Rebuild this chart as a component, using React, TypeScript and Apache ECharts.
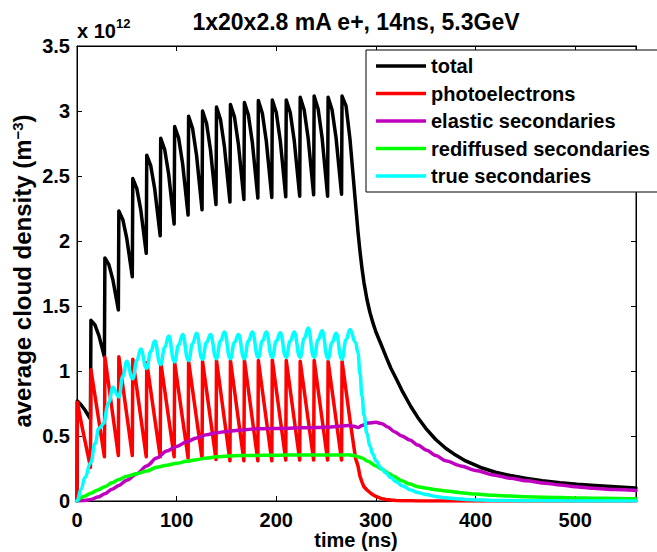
import { useEffect, useRef } from "react";
import * as echarts from "echarts";

const FONT = '"Liberation Sans", Arial, Helvetica, sans-serif';

const titleText = "1x20x2.8 mA e+, 14ns, 5.3GeV";
const seriesNames = [
  "total",
  "photoelectrons",
  "elastic secondaries",
  "rediffused secondaries",
  "true secondaries",
];
const seriesColors = ["#000000", "#ff0000", "#bf00bf", "#00ff00", "#00ffff"];

// time grid during the bunch train (ns)
const trainT = [
  0,
  0.3, 4, 8, 13.5,
  14, 18, 22, 27.5,
  28, 32, 36, 41.5,
  42, 46, 50, 55.5,
  56, 60, 64, 69.5,
  70, 74, 78, 83.5,
  84, 88, 92, 97.5,
  98, 102, 106, 111.5,
  112, 116, 120, 125.5,
  126, 130, 134, 139.5,
  140, 144, 148, 153.5,
  154, 158, 162, 167.5,
  168, 172, 176, 181.5,
  182, 186, 190, 195.5,
  196, 200, 204, 209.5,
  210, 214, 218, 223.5,
  224, 228, 232, 237.5,
  238, 242, 246, 251.5,
  252, 256, 260, 265.5,
  266, 270, 274, 279.5,
];
// time grid after the train (ns)
const tailT = [
  282, 284, 286, 288, 291, 294, 297, 300, 305, 310, 315, 320, 327, 335, 342, 350, 360, 370,
  380, 390, 405, 420, 435, 450, 467, 485, 502, 520, 540, 561,
];

// values in units of 1e12 m^-3
const totalV = [
  0,
  0.77, 0.74, 0.70, 0.63,
  1.39, 1.354, 1.272, 1.11,
  1.87, 1.818, 1.702, 1.47,
  2.23, 2.164, 2.018, 1.725,
  2.48, 2.405, 2.239, 1.905,
  2.66, 2.579, 2.40, 2.04,
  2.79, 2.704, 2.513, 2.13,
  2.88, 2.792, 2.594, 2.20,
  2.96, 2.866, 2.658, 2.24,
  3.00, 2.906, 2.698, 2.28,
  3.03, 2.935, 2.723, 2.30,
  3.05, 2.955, 2.743, 2.32,
  3.065, 2.969, 2.756, 2.33,
  3.08, 2.983, 2.767, 2.335,
  3.085, 2.988, 2.772, 2.34,
  3.085, 2.989, 2.774, 2.345,
  3.105, 3.008, 2.79, 2.355,
  3.115, 3.015, 2.792, 2.345,
  3.105, 3.008, 2.792, 2.36,
  3.115, 3.04, 2.78, 2.29,
  2.07, 1.92, 1.79, 1.68, 1.55, 1.45, 1.37, 1.30, 1.208, 1.112, 1.021, 0.946, 0.837, 0.727,
  0.643, 0.559, 0.473, 0.406, 0.353, 0.308, 0.258, 0.221, 0.196, 0.176, 0.156, 0.14, 0.128,
  0.119, 0.109, 0.10,
];

const photoV = [
  0,
  0.76, 0.612, 0.463, 0.26,
  1.01, 0.812, 0.613, 0.34,
  1.105, 0.882, 0.657, 0.35,
  1.11, 0.885, 0.659, 0.35,
  1.09, 0.868, 0.645, 0.34,
  1.065, 0.85, 0.635, 0.34,
  1.07, 0.854, 0.637, 0.34,
  1.065, 0.847, 0.629, 0.33,
  1.075, 0.854, 0.633, 0.33,
  1.075, 0.852, 0.627, 0.32,
  1.08, 0.852, 0.623, 0.31,
  1.08, 0.852, 0.623, 0.31,
  1.085, 0.856, 0.625, 0.31,
  1.08, 0.852, 0.623, 0.31,
  1.085, 0.857, 0.628, 0.315,
  1.08, 0.854, 0.626, 0.315,
  1.075, 0.85, 0.624, 0.315,
  1.08, 0.854, 0.626, 0.315,
  1.075, 0.85, 0.624, 0.315,
  1.075, 0.85, 0.62, 0.33,
  0.27, 0.19, 0.145, 0.11, 0.085, 0.065, 0.048, 0.035, 0.02, 0.012, 0.007, 0.004, 0.002,
  0.001, 0, 0, 0, 0, 0, 0, 0, 0, 0, 0, 0, 0, 0, 0, 0, 0,
];

const trueV = [
  0,
  0.005, 0.09, 0.18, 0.29,
  0.30, 0.44, 0.56, 0.60,
  0.60, 0.76, 0.875, 0.805,
  0.80, 0.96, 1.075, 0.945,
  0.94, 1.08, 1.17, 1.025,
  1.02, 1.15, 1.23, 1.055,
  1.05, 1.18, 1.27, 1.075,
  1.07, 1.20, 1.28, 1.085,
  1.08, 1.21, 1.29, 1.095,
  1.09, 1.22, 1.28, 1.10,
  1.095, 1.23, 1.30, 1.10,
  1.095, 1.22, 1.28, 1.10,
  1.095, 1.23, 1.30, 1.11,
  1.105, 1.23, 1.30, 1.11,
  1.105, 1.23, 1.295, 1.11,
  1.105, 1.23, 1.30, 1.11,
  1.105, 1.25, 1.33, 1.11,
  1.105, 1.24, 1.31, 1.10,
  1.095, 1.22, 1.29, 1.095,
  1.09, 1.24, 1.32, 1.22,
  1.14, 0.98, 0.81, 0.66, 0.52, 0.42, 0.36, 0.31, 0.255, 0.215, 0.18, 0.15, 0.115, 0.085,
  0.065, 0.05, 0.035, 0.025, 0.018, 0.012, 0.007, 0.004, 0.003, 0.002, 0.001, 0.001, 0,
  0, 0, 0,
];

// coarser time grid for the slowly varying secondaries
const slowT = [
  0, 7, 14, 21, 28, 35, 42, 50, 60, 70, 80, 90, 100, 110, 120, 130, 140, 150, 165, 180,
  195, 210, 225, 240, 255, 266, 272, 278, 282, 286, 292, 300, 306, 312, 318, 326, 334,
  342, 351, 360, 370, 385, 400, 418, 435, 451, 470, 485, 500, 518, 540, 561,
];
const elasticV = [
  0, 0.003, 0.012, 0.03, 0.055, 0.09, 0.12, 0.16, 0.21, 0.27, 0.33, 0.385, 0.42, 0.455,
  0.485, 0.51, 0.525, 0.535, 0.547, 0.555, 0.557, 0.56, 0.563, 0.565, 0.57, 0.577, 0.58,
  0.575, 0.565, 0.58, 0.60, 0.605, 0.595, 0.57, 0.535, 0.50, 0.47, 0.43, 0.39, 0.35, 0.31,
  0.27, 0.235, 0.20, 0.175, 0.155, 0.137, 0.123, 0.11, 0.098, 0.088, 0.08,
];
const rediffusedV = [
  0, 0.035, 0.06, 0.085, 0.11, 0.14, 0.165, 0.19, 0.21, 0.23, 0.26, 0.275, 0.29, 0.305,
  0.318, 0.33, 0.34, 0.345, 0.35, 0.35, 0.352, 0.353, 0.353, 0.353, 0.353, 0.354, 0.355,
  0.35, 0.34, 0.33, 0.305, 0.27, 0.245, 0.215, 0.19, 0.155, 0.13, 0.11, 0.098, 0.087,
  0.077, 0.064, 0.053, 0.044, 0.038, 0.033, 0.029, 0.026, 0.024, 0.022, 0.02, 0.018,
];

const fastT = [...trainT, ...tailT];
const pairs = (ts: number[], vs: number[]) => ts.map((t, i) => [t, vs[i]]);

export default function App() {
  const ref = useRef<HTMLDivElement>(null);
  useEffect(() => {
    if (!ref.current) return;
    const chart = echarts.init(ref.current, null, { renderer: "svg" });
    const axisCommon = {
      axisLine: { show: true, onZero: false, lineStyle: { color: "#000", width: 1 } },
      axisTick: { show: true, inside: true, length: 5, lineStyle: { color: "#000", width: 1 } },
      splitLine: { show: false },
    };
    const labelStyle = { color: "#000", fontSize: 20, fontWeight: "bold", fontFamily: FONT };
    const datasets = [
      pairs(fastT, totalV),
      pairs(fastT, photoV),
      pairs(slowT, elasticV),
      pairs(slowT, rediffusedV),
      pairs(fastT, trueV),
    ];
    const smoothing = [false, false, 0.3, 0.3, 0.45];
    chart.setOption({
      animation: false,
      backgroundColor: "#ffffff",
      grid: {
        left: 77,
        top: 46,
        width: 559,
        height: 455,
        show: true,
        borderColor: "#000",
        borderWidth: 1,
        backgroundColor: "transparent",
      },
      xAxis: [
        {
          type: "value",
          min: 0,
          max: 561,
          interval: 100,
          position: "bottom",
          ...axisCommon,
          axisLabel: { ...labelStyle, margin: 9, showMaxLabel: false },
        },
        {
          type: "value",
          min: 0,
          max: 561,
          interval: 100,
          position: "top",
          ...axisCommon,
          axisLabel: { show: false },
        },
      ],
      yAxis: [
        {
          type: "value",
          min: 0,
          max: 3.5,
          interval: 0.5,
          position: "left",
          ...axisCommon,
          axisLabel: { ...labelStyle, margin: 7 },
        },
        {
          type: "value",
          min: 0,
          max: 3.5,
          interval: 0.5,
          position: "right",
          ...axisCommon,
          axisLabel: { show: false },
        },
      ],
      legend: {
        data: seriesNames.map((name) => ({ name, icon: "rect" })),
        orient: "vertical",
        left: 366,
        top: 50,
        padding: [6, 30, 6, 10],
        itemWidth: 50,
        itemHeight: 3.4,
        itemGap: 7.5,
        selectedMode: false,
        backgroundColor: "#ffffff",
        borderColor: "#000",
        borderWidth: 1,
        z: 10,
        textStyle: { color: "#000", fontSize: 20, fontWeight: "bold", fontFamily: FONT, lineHeight: 20 },
      },
      graphic: [
        {
          type: "text",
          x: 356,
          y: 22,
          style: {
            text: titleText,
            fill: "#000",
            font: `bold 23px ${FONT}`,
            align: "center",
            verticalAlign: "middle",
            textAlign: "center",
            textVerticalAlign: "middle",
          },
        },
        {
          type: "text",
          x: 77,
          y: 31,
          style: {
            text: "x 10",
            fill: "#000",
            font: `bold 20px ${FONT}`,
            align: "left",
            verticalAlign: "middle",
            textAlign: "left",
            textVerticalAlign: "middle",
          },
        },
        {
          type: "text",
          x: 116,
          y: 23,
          style: {
            text: "12",
            fill: "#000",
            font: `bold 13px ${FONT}`,
            align: "left",
            verticalAlign: "middle",
            textAlign: "left",
            textVerticalAlign: "middle",
          },
        },
        {
          type: "text",
          x: 22,
          y: 271,
          rotation: Math.PI / 2,
          style: {
            text: "{n|average cloud density (m}{s|−3}{n|)}",
            fill: "#000",
            align: "center",
            verticalAlign: "middle",
            textAlign: "center",
            textVerticalAlign: "middle",
            rich: {
              n: { font: `bold 24px ${FONT}`, fill: "#000", verticalAlign: "bottom" },
              s: { font: `bold 15px ${FONT}`, fill: "#000", verticalAlign: "top" },
            },
          },
        },
        {
          type: "text",
          x: 356,
          y: 540,
          style: {
            text: "time (ns)",
            fill: "#000",
            font: `bold 20px ${FONT}`,
            align: "center",
            verticalAlign: "middle",
            textAlign: "center",
            textVerticalAlign: "middle",
          },
        },
      ],
      series: seriesNames.map((name, i) => ({
        name,
        type: "line",
        data: datasets[i],
        symbol: "none",
        showSymbol: false,
        smooth: smoothing[i],
        smoothMonotone: "x",
        z: 2 + i,
        itemStyle: { color: seriesColors[i] },
        lineStyle: { color: seriesColors[i], width: 3.5, cap: "round", join: "round" },
      })),
    });
    return () => chart.dispose();
  }, []);
  return (
    <div
      ref={ref}
      style={{ position: "absolute", left: 0, top: 0, width: 657, height: 552 }}
    />
  );
}
